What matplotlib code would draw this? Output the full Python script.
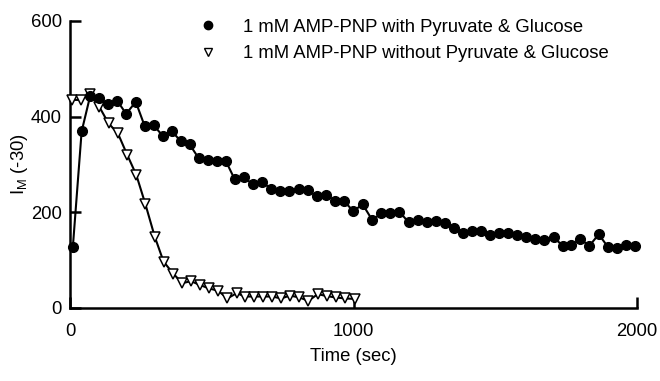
import matplotlib
matplotlib.use("Agg")
import matplotlib.pyplot as plt
from matplotlib.lines import Line2D

plt.rcParams['font.family'] = ['Liberation Sans', 'DejaVu Sans']
plt.rcParams['mathtext.default'] = 'regular'

# Data
with_x = [10, 41, 71, 102, 135, 167, 198, 232, 263, 295, 327, 359, 390, 422, 454, 486, 517, 549, 581, 613,
          644, 677, 709, 741, 773, 806, 838, 870, 902, 935, 967, 999, 1032, 1066, 1098, 1130, 1162, 1195, 1226, 1258,
          1290, 1322, 1354, 1386, 1418, 1450, 1481, 1513, 1545, 1578, 1610, 1641, 1673, 1706, 1738, 1768, 1800, 1832,
          1865, 1897, 1928, 1960, 1992]
with_y = [127, 369, 443, 440, 426, 433, 406, 431, 381, 382, 360, 370, 349, 342, 313, 309, 308, 308, 269, 273,
          259, 264, 249, 245, 245, 249, 246, 234, 237, 224, 224, 202, 217, 184, 198, 198, 201, 179, 185, 180,
          182, 177, 168, 157, 162, 162, 153, 156, 156, 152, 148, 145, 142, 148, 130, 131, 144, 130, 154, 128,
          126, 132, 130]
without_x = [6, 38, 71, 103, 136, 169, 202, 234, 266, 299, 330, 364, 396, 427, 459, 490, 523, 555, 588, 617,
             649, 681, 713, 745, 776, 809, 841, 874, 905, 937, 970, 1004]
without_y = [435, 435, 447, 421, 386, 365, 320, 278, 217, 149, 97, 72, 52, 56, 48, 41, 36, 20, 31, 24,
             24, 24, 24, 20, 26, 22, 15, 29, 25, 22, 20, 19]

labels = ['1 mM AMP-PNP with Pyruvate & Glucose', '1 mM AMP-PNP without Pyruvate & Glucose']
x_ticks = [0, 1000, 2000]
y_ticks = [0, 200, 400, 600]
xlabel = 'Time (sec)'
ylabel = r'$I_M$ (-30)'

FS = 13.3
fig = plt.figure(figsize=(6.6, 3.81), dpi=100)
ax = fig.add_axes([70/660, 73/381, 567/660, 287/381])

ax.plot(without_x, without_y, color='black', lw=1.5, marker='v', ms=7, mfc='white', mec='black',
        mew=1.1, clip_on=False, zorder=3)
ax.plot(with_x, with_y, color='black', lw=1.5, marker='o', ms=7, mfc='black', mec='black',
        clip_on=False, zorder=4)

ax.set_xlim(0, 2000)
ax.set_ylim(0, 600)
ax.set_xticks(x_ticks)
ax.set_yticks(y_ticks)
for s in ['top', 'right']:
    ax.spines[s].set_visible(False)
for s in ['left', 'bottom']:
    ax.spines[s].set_linewidth(1.8)
ax.tick_params(axis='both', direction='in', length=8, width=1.8, labelsize=FS)
ax.tick_params(axis='x', pad=11)
ax.tick_params(axis='y', pad=6)

ax.set_xlabel(xlabel, fontsize=FS)
ax.xaxis.set_label_coords(0.5, -0.14)
ax.set_ylabel(ylabel, fontsize=FS)
ax.yaxis.set_label_coords(-0.070, 0.5)

handles = [Line2D([], [], ls='none', marker='o', ms=6, mfc='black', mec='black'),
           Line2D([], [], ls='none', marker='v', ms=6, mfc='white', mec='black', mew=1.0)]
fig.legend(handles, labels, loc='upper left', bbox_to_anchor=(198.75/660, 1 - 18.5/381),
           frameon=False, fontsize=FS, handlelength=1.0, handletextpad=1.4, labelspacing=0.52,
           borderpad=0, borderaxespad=0)

fig.savefig('out.png', dpi=100)
